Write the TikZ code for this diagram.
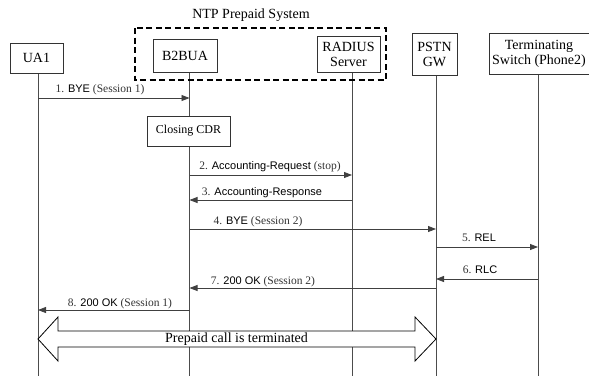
\documentclass[tikz,border=0pt]{standalone}
\usepackage{fontspec}
\setmainfont{Liberation Serif}
\newfontfamily\msgsans{Liberation Sans}
\newcommand\nmf{\msgsans\fontsize{11}{12}\selectfont\color{black}}
\usetikzlibrary{arrows.meta}
\begin{document}
\begin{tikzpicture}[x=1pt,y=-1pt,
  ent/.style={draw=black!80,line width=0.8pt,fill=white,inner sep=0pt,align=center,
    font=\fontsize{14}{15}\selectfont},
  life/.style={draw=black!70,line width=0.9pt},
  msg/.style={draw=black!75,line width=0.8pt,-{Triangle[length=8pt,width=6pt]}},
  lbl/.style={inner sep=0pt,anchor=base,font=\fontsize{11.5}{12}\selectfont,text=black!80}]
\useasboundingbox (0,0) rectangle (589,376);
% lifeline anchors
\coordinate (lUA) at (38,73);
\coordinate (lB) at (189.5,72);
\coordinate (lR) at (352,72);
\coordinate (lP) at (436,75);
\coordinate (lT) at (538,74);
\foreach \c in {lUA,lB,lR,lP,lT}{\draw[life] (\c) -- (\c |- 0,376);}
% NTP system dashed box
\draw[line width=1.6pt,dash pattern=on 6pt off 3.5pt] (135,28) rectangle (386,80);
\node (title) at (251,15) {\fontsize{14}{15}\selectfont NTP Prepaid System};
% entities
\node[ent,minimum width=53pt,minimum height=30pt] (ua1) at (36.5,58) {UA1};
\node[ent,minimum width=64pt,minimum height=33pt] (b2b) at (185,55.5) {B2BUA};
\node[ent,minimum width=63pt,minimum height=36pt] (rad) at (348.5,54) {RADIUS\\Server};
\node[ent,minimum width=45pt,minimum height=42pt] (pstn) at (434.5,54) {PSTN\\GW};
\node[ent,minimum width=100pt,minimum height=41pt] (term) at (539,53.5) {Terminating\\Switch (Phone2)};
\node[ent,minimum width=83pt,minimum height=30pt,font=\fontsize{12}{13}\selectfont] (cdr) at (188.5,131) {Closing CDR};
% messages
\draw[msg] (lUA |- 0,98) -- (lB |- 0,98);
\node[lbl] (m1) at (100,92) {1. {\nmf BYE} (Session 1)};
\draw[msg] (lB |- 0,175) -- (lR |- 0,175);
\node[lbl] (m2) at (270,169) {2. {\nmf Accounting-Request} (stop)};
\draw[msg] (lR |- 0,200) -- (lB |- 0,200);
\node[lbl] (m3) at (262,195) {3. {\nmf Accounting-Response}};
\draw[msg] (lB |- 0,229) -- (lP |- 0,229);
\node[lbl] (m4) at (258,224) {4. {\nmf BYE} (Session 2)};
\draw[msg] (lP |- 0,247) -- (lT |- 0,247);
\node[lbl] (m5) at (479,241) {5. {\nmf REL}};
\draw[msg] (lT |- 0,279) -- (lP |- 0,279);
\node[lbl] (m6) at (480,273) {6. {\nmf RLC}};
\draw[msg] (lP |- 0,288) -- (lB |- 0,288);
\node[lbl] (m7) at (263,284) {7. {\nmf 200 OK} (Session 2)};
\draw[msg] (lB |- 0,310) -- (lUA |- 0,310);
\node[lbl] (m8) at (120,306) {8. {\nmf 200 OK} (Session 1)};
% double arrow
\draw[fill=white,line width=0.8pt] (lUA |- 0,339) -- (58,317) -- (58,331) -- (415,331) -- (415,317)
  -- (lP |- 0,339) -- (415,361) -- (415,347) -- (58,347) -- (58,361) -- cycle;
\node[inner sep=0pt,font=\fontsize{14}{15}\selectfont] (term2) at (236.5,339) {Prepaid call is terminated};
\end{tikzpicture}
\end{document}
